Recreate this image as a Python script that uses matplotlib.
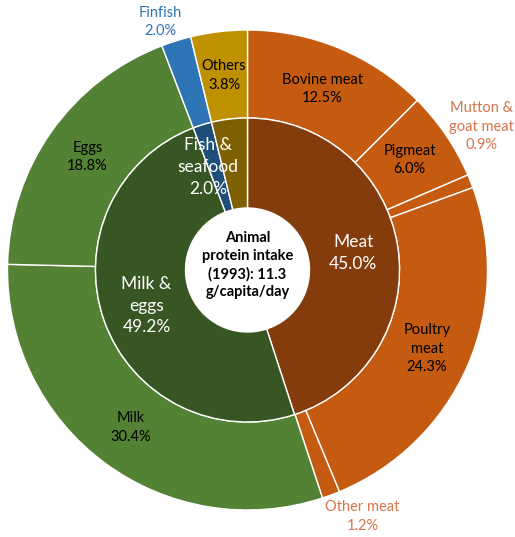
import numpy as np
import matplotlib.pyplot as plt

# Inner ring: food groups
groups = ['Meat', 'Milk &\neggs', 'Fish &\nseafood', 'Others']
group_share = [45.0, 49.2, 2.0, 3.8]
group_colors = ['#843C0C', '#375623', '#1F4E79', '#7F6000']

# Outer ring: individual products
items = ['Bovine meat', 'Pigmeat', 'Mutton &\ngoat meat', 'Poultry\nmeat', 'Other meat',
         'Milk', 'Eggs', 'Finfish', 'Others']
item_share = [12.5, 6.0, 0.9, 24.3, 1.2, 30.4, 18.8, 2.0, 3.8]
item_colors = ['#C55A11', '#C55A11', '#C55A11', '#C55A11', '#C55A11',
               '#548235', '#548235', '#2E75B6', '#BF9000']

center_text = 'Animal\nprotein intake\n(1993): 11.3\ng/capita/day'

plt.rcParams['font.family'] = ['Lato', 'DejaVu Sans']

fig = plt.figure(figsize=(5.15, 5.37), dpi=100)
ax = fig.add_axes([0, 0, 1, 1])

R_OUT, R_MID, R_HOLE = 240, 152, 62
edge = dict(edgecolor='white', linewidth=1.0)

ax.pie(item_share, radius=R_OUT, colors=item_colors, startangle=90, counterclock=False,
       wedgeprops=dict(width=R_OUT - R_MID, **edge))
ax.pie(group_share, radius=R_MID, colors=group_colors, startangle=90, counterclock=False,
       wedgeprops=dict(width=R_MID - R_HOLE, **edge))

# pie() resets the limits, so set the pixel-like frame afterwards
ax.set_xlim(-247.5, 267.5)
ax.set_ylim(-267, 270)
ax.set_aspect('equal')
ax.axis('off')


def mid_angles(shares):
    tot = sum(shares)
    cum = np.cumsum([0] + list(shares))
    return [(cum[i] + cum[i + 1]) / 2 / tot * 360 for i in range(len(shares))]


def polar(angle, r):
    a = np.radians(angle)
    return r * np.sin(a), r * np.cos(a)


# small slices get their label outside the ring: (angle, radius, colour)
outside = {
    'Mutton &\ngoat meat': (58.5, 274, '#D9734A'),
    'Other meat': (155, 272, '#D9734A'),
    'Finfish': (340.6, 263, '#2E75B6'),
}
for name, share, ang in zip(items, item_share, mid_angles(item_share)):
    r, col = 196, 'black'
    if name in outside:
        ang, r, col = outside[name]
    x, y = polar(ang, r)
    ax.text(x, y, f'{name}\n{share:.1f}%', ha='center', va='center', fontsize=10.5,
            color=col, linespacing=1.42)

for name, share, ang in zip(groups, group_share, mid_angles(group_share)):
    if name == 'Others':
        continue
    r = 107
    if name.startswith('Fish'):
        ang, r = 339, 110
    x, y = polar(ang, r)
    ax.text(x, y, f'{name}\n{share:.1f}%', ha='center', va='center', fontsize=12.5,
            color='white', linespacing=1.45)

ax.text(0, 5, center_text, ha='center', va='center', fontsize=10.5, fontweight='bold',
        linespacing=1.35)

fig.savefig('out.png', dpi=100, facecolor='white')
